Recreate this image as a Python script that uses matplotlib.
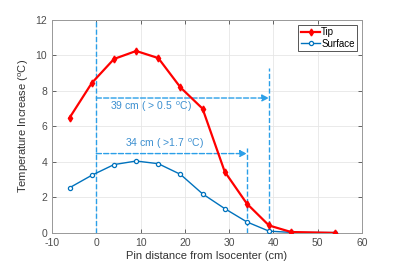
import matplotlib
matplotlib.use("Agg")
import matplotlib.pyplot as plt

plt.rcParams["font.family"] = ["Liberation Sans", "DejaVu Sans"]
plt.rcParams["axes.unicode_minus"] = False
plt.rcParams["mathtext.fontset"] = "custom"
plt.rcParams["mathtext.rm"] = "Liberation Sans"

dist = [-6, -1, 4, 9, 14, 19, 24, 29, 34, 39, 44, 54]
tip = [6.5, 8.45, 9.8, 10.25, 9.85, 8.2, 7.0, 3.45, 1.65, 0.42, 0.05, 0.0]
surface = [2.55, 3.25, 3.85, 4.05, 3.9, 3.3, 2.2, 1.37, 0.62, 0.1, 0.03, 0.02]

dash_col = "#2b9fe8"
text_col = "#3b8fd0"
axis_col = "#4d4d4d"

fig = plt.figure(figsize=(4.0, 2.62), dpi=100)
ax = fig.add_axes([0.13, 0.111, 0.775, 0.813])

ax.plot(dist, tip, color="#ff0000", lw=1.6, marker="d", ms=3.5,
        label="Tip", zorder=4)
ax.plot(dist, surface, color="#0072bd", lw=1.0, marker="o", ms=3,
        mfc="white", mew=0.9, label="Surface", zorder=3)

# guide lines
ax.plot([0, 0], [0, 12], ls="--", color=dash_col, lw=1.0)
ax.plot([39, 39], [0, 9.3], ls="--", color=dash_col, lw=1.0)
ax.plot([34, 34], [0, 4.8], ls="--", color=dash_col, lw=1.0)
ax.annotate("", xy=(39, 7.6), xytext=(0, 7.6),
            arrowprops=dict(arrowstyle="-|>", ls="--", color=dash_col,
                            lw=1.0, shrinkA=0, shrinkB=0))
ax.annotate("", xy=(34, 4.47), xytext=(0, 4.47),
            arrowprops=dict(arrowstyle="-|>", ls="--", color=dash_col,
                            lw=1.0, shrinkA=0, shrinkB=0))
ax.text(3.0, 7.1, "39 cm ( > 0.5 $\\,^{\\rm o}$C)", color=text_col,
        fontsize=7.5, va="center")
ax.text(6.5, 5.0, "34 cm ( >1.7 $\\,^{\\rm o}$C)", color=text_col,
        fontsize=7.5, va="center")

ax.set_xlim(-10, 60)
ax.set_ylim(0, 12)
ax.set_xticks(range(-10, 61, 10))
ax.set_yticks(range(0, 13, 2))
ax.grid(True, color="#e6e6e6", lw=0.6)
ax.set_axisbelow(True)
ax.tick_params(labelsize=7.5, colors=axis_col, direction="in", length=3,
               top=True, right=True, width=0.6)
for s in ax.spines.values():
    s.set_color("#999999")
    s.set_linewidth(0.7)

ax.set_xlabel("Pin distance from Isocenter (cm)", fontsize=8, color="#333333",
              labelpad=2)
ax.set_ylabel("Temperature Increase ($^{\\rm o}$C)", fontsize=8,
              color="#333333", labelpad=3)

leg = ax.legend(loc="upper right", fontsize=7, handlelength=2.0,
                borderpad=0.25, labelspacing=0.15, handletextpad=0.1,
                fancybox=False, framealpha=1, borderaxespad=0.5)
leg.get_frame().set_edgecolor("#555555")
leg.get_frame().set_linewidth(0.7)

fig.savefig("out.png", dpi=100)
